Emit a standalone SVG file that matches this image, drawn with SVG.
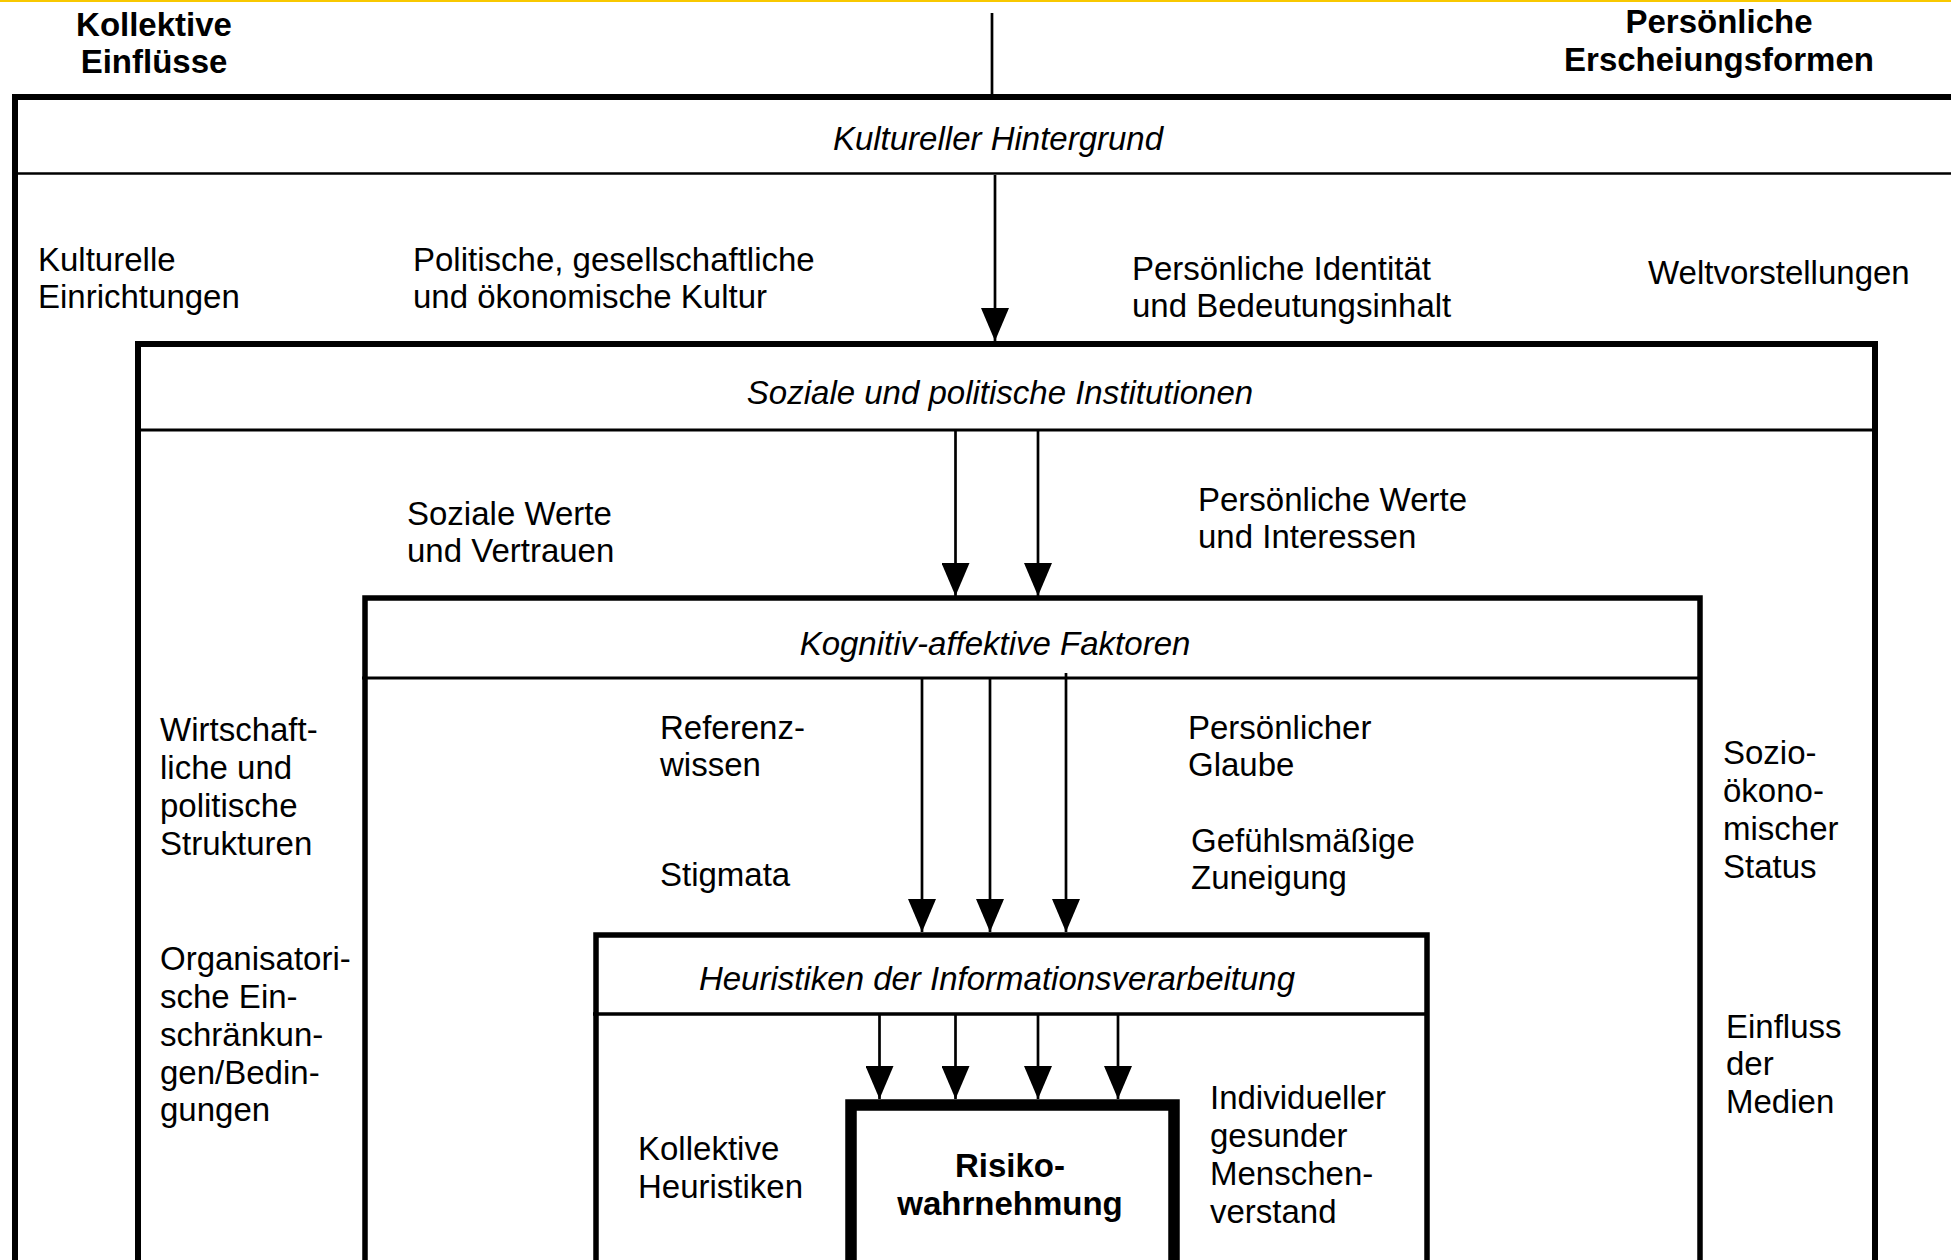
<svg xmlns="http://www.w3.org/2000/svg" width="1951" height="1260" viewBox="0 0 1951 1260">
<style>
text{font-family:"Liberation Sans",Arial,Helvetica,sans-serif;font-size:33px;fill:#000}
.b{font-weight:bold}
.i{font-style:italic}
.c{text-anchor:middle}
.box{fill:none;stroke:#000}
.div{stroke:#000}
.con line{stroke:#000;stroke-width:2.7}
</style>
<defs>
<marker id="ah" markerUnits="userSpaceOnUse" markerWidth="34" markerHeight="28" viewBox="0 0 34 28" refX="33" refY="14" orient="auto">
<path d="M0,0 L33,14 L0,28 z" fill="#000"/>
</marker>
</defs>
<rect x="0" y="0" width="1951" height="1260" fill="#fff"/>
<rect x="0" y="0" width="1951" height="2" fill="#F8C800"/>

<g id="header">
<text class="b c" x="154" y="36">Kollektive</text>
<text class="b c" x="154" y="73">Einflüsse</text>
<text class="b c" x="1719" y="33">Persönliche</text>
<text class="b c" x="1719" y="71">Erscheiungsformen</text>
</g>

<g id="box-kultur">
<rect class="box" x="15" y="97" width="2000" height="1300" stroke-width="6"/>
<line class="div" x1="12" y1="173.5" x2="1951" y2="173.5" stroke-width="2.5"/>
<text class="i c" x="998" y="150">Kultureller Hintergrund</text>
<text x="38" y="271">Kulturelle</text>
<text x="38" y="308">Einrichtungen</text>
<text x="413" y="271">Politische, gesellschaftliche</text>
<text x="413" y="308">und ökonomische Kultur</text>
<text x="1132" y="280">Persönliche Identität</text>
<text x="1132" y="317">und Bedeutungsinhalt</text>
<text x="1648" y="284">Weltvorstellungen</text>
</g>

<g id="box-institutionen">
<rect class="box" x="138" y="344" width="1737" height="1000" stroke-width="6"/>
<line class="div" x1="138" y1="430" x2="1875" y2="430" stroke-width="3"/>
<text class="i c" x="1000" y="404">Soziale und politische Institutionen</text>
<text x="407" y="525">Soziale Werte</text>
<text x="407" y="562">und Vertrauen</text>
<text x="1198" y="511">Persönliche Werte</text>
<text x="1198" y="548">und Interessen</text>
<text x="160" y="741">Wirtschaft-</text>
<text x="160" y="779">liche und</text>
<text x="160" y="817">politische</text>
<text x="160" y="855">Strukturen</text>
<text x="160" y="970">Organisatori-</text>
<text x="160" y="1008">sche Ein-</text>
<text x="160" y="1046">schränkun-</text>
<text x="160" y="1084">gen/Bedin-</text>
<text x="160" y="1121">gungen</text>
<text x="1723" y="764">Sozio-</text>
<text x="1723" y="802">ökono-</text>
<text x="1723" y="840">mischer</text>
<text x="1723" y="878">Status</text>
<text x="1726" y="1038">Einfluss</text>
<text x="1726" y="1075">der</text>
<text x="1726" y="1113">Medien</text>
</g>

<g id="box-kognitiv">
<rect class="box" x="365" y="598" width="1335" height="800" stroke-width="5.5"/>
<line class="div" x1="362" y1="678" x2="1700" y2="678" stroke-width="3"/>
<text class="i c" x="995" y="655">Kognitiv-affektive Faktoren</text>
<text x="660" y="739">Referenz-</text>
<text x="660" y="776">wissen</text>
<text x="660" y="886">Stigmata</text>
<text x="1188" y="739">Persönlicher</text>
<text x="1188" y="776">Glaube</text>
<text x="1191" y="852">Gefühlsmäßige</text>
<text x="1191" y="889">Zuneigung</text>
</g>

<g id="box-heuristiken">
<rect class="box" x="596" y="935" width="831" height="500" stroke-width="5.5"/>
<line class="div" x1="593" y1="1014" x2="1427" y2="1014" stroke-width="3.5"/>
<text class="i c" x="997" y="990">Heuristiken der Informationsverarbeitung</text>
<text x="638" y="1160">Kollektive</text>
<text x="638" y="1198">Heuristiken</text>
<text x="1210" y="1109">Individueller</text>
<text x="1210" y="1147">gesunder</text>
<text x="1210" y="1185">Menschen-</text>
<text x="1210" y="1223">verstand</text>
</g>

<g id="box-risiko">
<rect class="box" x="851" y="1105" width="323" height="300" stroke-width="11.5"/>
<text class="b c" x="1010" y="1177">Risiko-</text>
<text class="b c" x="1010" y="1215">wahrnehmung</text>
</g>

<g id="connectors" class="con">
<line x1="992" y1="13" x2="992" y2="95"/>
<line x1="995" y1="175" x2="995" y2="341" marker-end="url(#ah)"/>
<line x1="955.5" y1="431" x2="955.5" y2="596" marker-end="url(#ah)"/>
<line x1="1038" y1="431" x2="1038" y2="596" marker-end="url(#ah)"/>
<line x1="922" y1="679" x2="922" y2="932" marker-end="url(#ah)"/>
<line x1="990" y1="679" x2="990" y2="932" marker-end="url(#ah)"/>
<line x1="1066" y1="673" x2="1066" y2="932" marker-end="url(#ah)"/>
<line x1="879.5" y1="1015" x2="879.5" y2="1099" marker-end="url(#ah)"/>
<line x1="955.5" y1="1015" x2="955.5" y2="1099" marker-end="url(#ah)"/>
<line x1="1038" y1="1015" x2="1038" y2="1099" marker-end="url(#ah)"/>
<line x1="1118" y1="1015" x2="1118" y2="1099" marker-end="url(#ah)"/>
</g>
</svg>
